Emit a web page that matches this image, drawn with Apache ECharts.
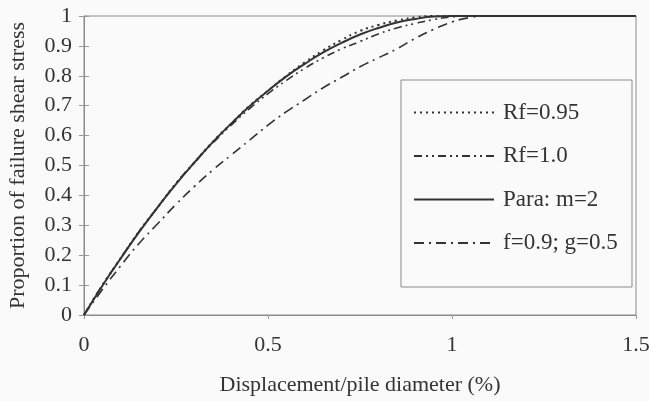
<!DOCTYPE html>
<html><head><meta charset="utf-8">
<script src="https://cdn.jsdelivr.net/npm/echarts@6/dist/echarts.min.js"></script>
<style>html,body{margin:0;padding:0;background:#fafafa}#c{width:649px;height:401px}</style>
</head><body><div id="c"></div>
<script>
const xRf095 = [0,0.05,0.1,0.15,0.2,0.25,0.3,0.35,0.4,0.45,0.5,0.55,0.6,0.65,0.7,0.75,0.8,0.85,0.9,0.95,1.0,1.5];
const yRf095 = [0,0.10,0.19,0.28,0.36,0.44,0.51,0.58,0.64,0.70,0.75,0.80,0.845,0.885,0.92,0.95,0.97,0.985,0.995,1.0,1.0,1.0];
const xRf10 = [0,0.05,0.1,0.15,0.2,0.25,0.3,0.35,0.4,0.45,0.5,0.55,0.6,0.65,0.7,0.75,0.8,0.85,0.9,0.95,1.0,1.05,1.5];
const yRf10 = [0,0.10,0.19,0.28,0.36,0.44,0.51,0.575,0.635,0.69,0.74,0.785,0.825,0.86,0.89,0.915,0.94,0.96,0.975,0.988,0.997,1.0,1.0];
const xPara = [0,0.05,0.1,0.15,0.2,0.25,0.3,0.35,0.4,0.45,0.5,0.55,0.6,0.65,0.7,0.75,0.8,0.85,0.9,0.95,1.0,1.5];
const yPara = [0,0.098,0.19,0.278,0.36,0.438,0.51,0.578,0.64,0.698,0.75,0.798,0.84,0.878,0.91,0.938,0.96,0.978,0.99,0.998,1.0,1.0];
const xFG = [0,0.05,0.1,0.15,0.2,0.25,0.3,0.35,0.4,0.45,0.5,0.55,0.6,0.65,0.7,0.75,0.8,0.85,0.9,0.95,1.0,1.05,1.1,1.5];
const yFG = [0,0.085,0.165,0.24,0.305,0.37,0.43,0.485,0.535,0.585,0.635,0.68,0.72,0.76,0.795,0.83,0.86,0.89,0.925,0.955,0.98,0.995,1.0,1.0];
const names = ['Rf=0.95','Rf=1.0','Para: m=2','f=0.9; g=0.5'];
const xTicks = [0,0.5,1,1.5];

const zip = (xs, ys) => xs.map((x, i) => [x, ys[i]]);
const col = '#333333';
const font = 'Liberation Serif';
function ser(name, data, type, width) {
  return {name, type:'line', data, showSymbol:false, symbol:'none', smooth:true,
    lineStyle:{color:col, width, type}, itemStyle:{color:col}, z:3};
}
const chart = echarts.init(document.getElementById('c'));
chart.setOption({
  backgroundColor:'#fafafa',
  animation:false,
  textStyle:{fontFamily:font},
  grid:{left:84, right:13, top:16, bottom:86, containLabel:false, outerBoundsMode:'none',
    show:true, borderColor:'#8a8a8a', borderWidth:1, backgroundColor:'transparent'},
  xAxis:{type:'value', min:0, max:1.5, interval:0.5,
    name:'Displacement/pile diameter (%)', nameLocation:'middle', nameGap:59,
    nameTextStyle:{fontFamily:font, fontSize:22, color:'#333'},
    axisLine:{lineStyle:{color:'#8a8a8a'}}, axisTick:{length:4, lineStyle:{color:'#999'}},
    axisLabel:{fontFamily:font, fontSize:22, color:'#333', margin:19,
      formatter: v => xTicks.includes(v) ? String(v) : ''},
    splitLine:{show:false}},
  yAxis:[{type:'value', min:0, max:1, interval:0.1,
    name:'Proportion of failure shear stress', nameLocation:'middle', nameGap:55,
    nameTextStyle:{fontFamily:font, fontSize:22, color:'#333'},
    axisLine:{lineStyle:{color:'#8a8a8a'}}, axisTick:{length:5, lineStyle:{color:'#999'}},
    axisLabel:{fontFamily:font, fontSize:22, color:'#333', margin:12,
      formatter: v => String(Math.round(v*10)/10)},
    splitLine:{show:false}},
   {type:'value', min:0, max:1, interval:0.1, position:'left',
    axisLine:{show:false}, axisTick:{inside:true, length:5, lineStyle:{color:'#999'}},
    axisLabel:{show:false}, splitLine:{show:false}}],
  legend:{orient:'vertical', left:413, top:101, padding:0, itemWidth:80, itemHeight:22, itemGap:20.5,
    textStyle:{fontFamily:font, fontSize:23, lineHeight:22, color:'#333', padding:[0,0,0,4]}, itemStyle:{opacity:0},
    data:names},
  graphic:[{type:'rect', shape:{x:401, y:80, width:231, height:207},
    style:{fill:'#fafafa', stroke:'#8a8a8a', lineWidth:1}, z:1}],
  series:[
    ser(names[0], zip(xRf095, yRf095), [2,4], 2),
    ser(names[1], zip(xRf10, yRf10), [8,4,2,4,2,4], 1.6),
    ser(names[2], zip(xPara, yPara), 'solid', 2),
    ser(names[3], zip(xFG, yFG), [10,5,2,5], 1.6)
  ]
});
</script></body></html>
